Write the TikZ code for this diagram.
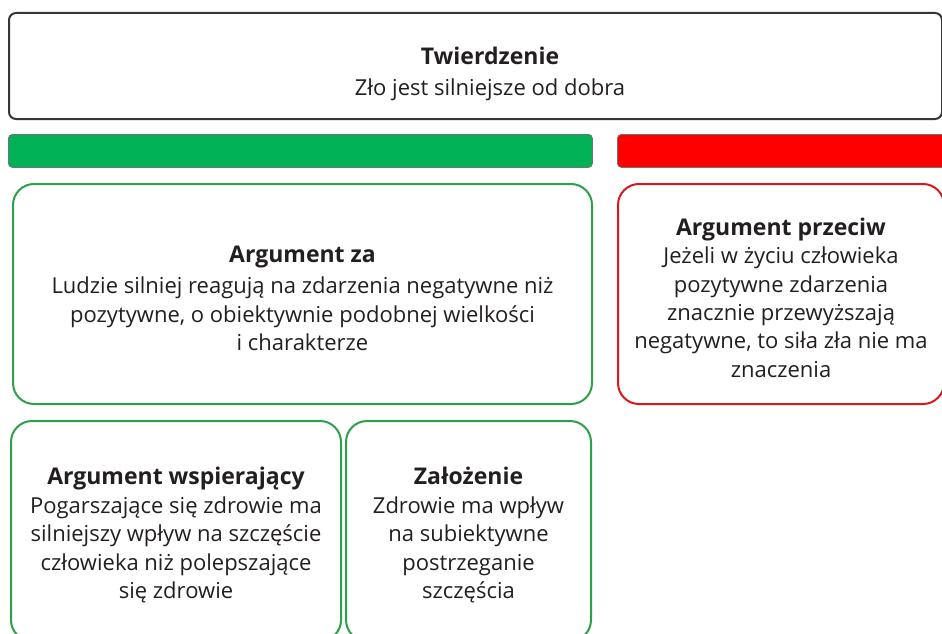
\documentclass[tikz,border=0pt]{standalone}
\usepackage{fontspec}
\setmainfont{Open Sans}
\usepackage{xcolor}
\usepackage{tikz}
\definecolor{barGreen}{RGB}{0,178,85}
\definecolor{barRed}{RGB}{255,0,0}
\definecolor{lineGreen}{RGB}{45,160,75}
\definecolor{lineRed}{RGB}{215,25,30}
\definecolor{ink}{RGB}{35,31,32}
\newcommand{\cardtitle}[1]{{\fontsize{23}{28}\selectfont\bfseries\rule{0pt}{25pt}#1}}
\tikzset{
  card/.style={draw, line width=2pt, rounded corners=21pt, fill=white, anchor=north west,
    text=ink, align=center, inner sep=0pt, font=\fontsize{22}{28.3}\selectfont},
  pro/.style={card, draw=lineGreen},
  con/.style={card, draw=lineRed},
  bar/.style={draw=black!55, line width=0.8pt, rounded corners=4pt, anchor=north west,
    minimum height=33pt, inner sep=0pt}
}

\begin{document}
\begin{tikzpicture}[x=1pt, y=-1pt]
    \useasboundingbox[fill=white] (0,0) rectangle (942,634);

    % thesis
    \node[card, draw=ink!90, rounded corners=7pt, minimum width=933pt, minimum height=106pt] at (8,12) (T) {};
    \node[text=ink, align=center, font=\fontsize{22}{30.5}\selectfont] at (490,70) (Tlabel)
        {\cardtitle{Twierdzenie}\\Zło jest silniejsze od dobra};

    % bars
    \node[bar, fill=barGreen, minimum width=584pt] at (8,134) (G) {};
    \node[bar, fill=barRed, minimum width=340pt] at (617,134) (R) {};

    % arguments
    \node[pro, minimum width=579pt, minimum height=220pt] at (12,183) (Za)
        {\cardtitle{Argument za}\\[3pt]Ludzie silniej reagują na zdarzenia negatywne niż\\pozytywne, o obiektywnie podobnej wielkości\\i charakterze};
    \node[con, minimum width=326pt, minimum height=220pt] at (617,183) (Przeciw)
        {\cardtitle{Argument przeciw}\\Jeżeli w życiu człowieka\\pozytywne zdarzenia\\znacznie przewyższają\\negatywne, to siła zła nie ma\\znaczenia};

    \node[pro, minimum width=330pt, minimum height=220pt] at (10,420) (Wsp)
        {\cardtitle{Argument wspierający}\\[1pt]Pogarszające się zdrowie ma\\silniejszy wpływ na szczęście\\człowieka niż polepszające\\się zdrowie};
    \node[pro, minimum width=245pt, minimum height=220pt] at (345,420) (Zal)
        {\cardtitle{Założenie}\\[1pt]Zdrowie ma wpływ\\na subiektywne\\postrzeganie\\szczęścia};
\end{tikzpicture}
\end{document}
